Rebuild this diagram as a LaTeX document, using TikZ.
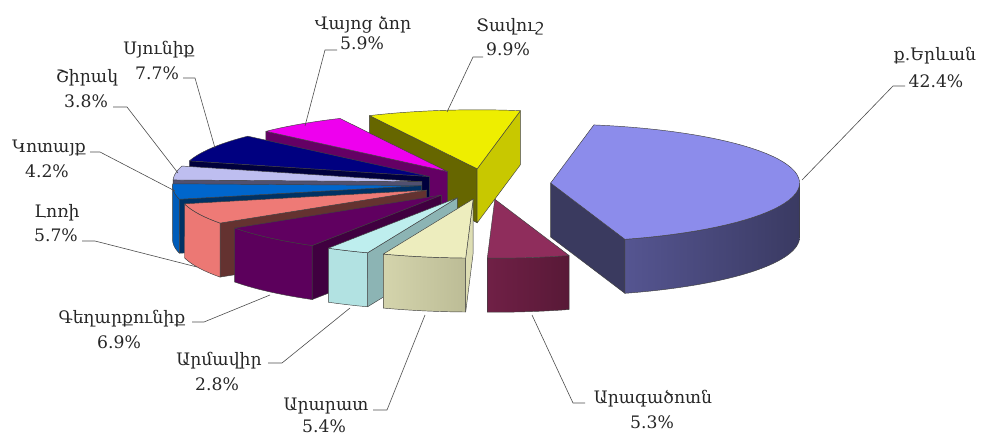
\documentclass[tikz,border=0pt]{standalone}
\usepackage{fontspec}
\setmainfont{DejaVu Serif}
\newcommand\lblfont{\fontsize{17.2}{20}\selectfont}
% pie geometry (pixels)
\def\CX{486}\def\CY{184}\def\RA{249}\def\RB{59}\def\EX{0.26}\def\HH{54}
\newcommand\setapex[2]{%
  \pgfmathsetmacro\tm{(#1+#2)/2}%
  \pgfmathsetmacro\ox{\CX+\EX*\RA*cos(\tm)}%
  \pgfmathsetmacro\oy{\CY-\EX*\RB*sin(\tm)}}
\newcommand\cutface[2]{%
  \pgfmathsetmacro\px{\ox+\RA*cos(#2)}%
  \pgfmathsetmacro\py{\oy-\RB*sin(#2)}%
  \path[edge,#1] (\ox,\oy) -- (\px,\py) -- (\px,\py+\HH) -- (\ox,\oy+\HH) -- cycle;}
\newcommand\outside[3]{%
  \path[edge,#1] plot[domain=#2:#3,samples=40] ({\ox+\RA*cos(\x)},{\oy-\RB*sin(\x)})
    -- plot[domain=#3:#2,samples=40] ({\ox+\RA*cos(\x)},{\oy-\RB*sin(\x)+\HH}) -- cycle;}
\newcommand\topface[3]{%
  \path[edge,#1] (\ox,\oy) -- plot[domain=#2:#3,samples=50] ({\ox+\RA*cos(\x)},{\oy-\RB*sin(\x)}) -- cycle;}
\definecolor{yerT}{RGB}{140,140,235}
\definecolor{yerS1}{RGB}{85,85,145}
\definecolor{yerS2}{RGB}{58,58,98}
\definecolor{yerC}{RGB}{58,58,95}
\definecolor{araT}{RGB}{143,45,92}
\definecolor{araS1}{RGB}{112,32,70}
\definecolor{araS2}{RGB}{88,25,55}
\definecolor{arrT}{RGB}{237,237,190}
\definecolor{arrS1}{RGB}{212,212,172}
\definecolor{arrS2}{RGB}{188,188,150}
\definecolor{arrC}{RGB}{222,222,180}
\definecolor{armT}{RGB}{190,238,238}
\definecolor{armS}{RGB}{178,226,226}
\definecolor{armC}{RGB}{140,180,180}
\definecolor{gegT}{RGB}{96,0,96}
\definecolor{gegS}{RGB}{92,0,92}
\definecolor{gegC}{RGB}{64,0,64}
\definecolor{lorT}{RGB}{238,122,118}
\definecolor{lorS}{RGB}{236,120,116}
\definecolor{lorC}{RGB}{100,50,48}
\definecolor{kotT}{RGB}{0,102,204}
\definecolor{kotS}{RGB}{0,92,185}
\definecolor{kotC}{RGB}{0,50,100}
\definecolor{shiT}{RGB}{190,190,240}
\definecolor{shiC}{RGB}{80,80,112}
\definecolor{syuT}{RGB}{0,0,128}
\definecolor{syuC}{RGB}{0,0,60}
\definecolor{vayT}{RGB}{238,0,238}
\definecolor{vayC}{RGB}{100,0,100}
\definecolor{tavT}{RGB}{238,238,0}
\definecolor{tavC}{RGB}{102,102,0}
\definecolor{tavD}{RGB}{200,200,0}
\tikzset{
  edge/.style={draw=black!75, line width=0.45pt, line join=round},
  lbl/.style={anchor=base, font=\lblfont, text=black!85, inner sep=0pt},
  leader/.style={draw=black!70, line width=0.6pt},
}
\begin{document}
\begin{tikzpicture}[x=1pt,y=-1pt]
\useasboundingbox (0,0) rectangle (982,436);
% ---- slices, back to front ----
% Tavush
\setapex{80}{115.64}
\cutface{fill=tavC}{115.64}
\cutface{fill=tavD}{80}
\topface{fill=tavT}{80}{115.64}
% Vayots Dzor
\setapex{115.64}{136.88}
\cutface{fill=vayC}{136.88}
\topface{fill=vayT}{115.64}{136.88}
% Syunik
\setapex{136.88}{164.6}
\cutface{fill=syuC}{164.6}
\topface{fill=syuT}{136.88}{164.6}
% Shirak
\setapex{164.6}{178.28}
\cutface{fill=shiC}{178.28}
\topface{fill=shiT}{164.6}{178.28}
% Kotayk
\setapex{-181.72}{-166.6}
\cutface{fill=kotC}{-166.6}
\outside{fill=kotS}{-180}{-166.6}
\topface{fill=kotT}{-181.72}{-166.6}
% Lori
\setapex{-166.6}{-146.08}
\cutface{fill=lorC}{-146.08}
\outside{fill=lorS}{-166.6}{-146.08}
\topface{fill=lorT}{-166.6}{-146.08}
% Gegharkunik
\setapex{-146.08}{-121.24}
\cutface{fill=gegC}{-121.24}
\outside{fill=gegS}{-146.08}{-121.24}
\topface{fill=gegT}{-146.08}{-121.24}
% Armavir
\setapex{-121.24}{-111.16}
\cutface{fill=armC}{-111.16}
\outside{fill=armS}{-121.24}{-111.16}
\topface{fill=armT}{-121.24}{-111.16}
% Ararat
\setapex{-111.16}{-91.72}
\cutface{fill=arrC}{-91.72}
\outside{left color=arrS1,right color=arrS2}{-111.16}{-91.72}
\topface{fill=arrT}{-111.16}{-91.72}
% Yerevan
\setapex{-72.64}{80}
\cutface{fill=yerC}{-72.64}
\outside{left color=yerS1,right color=yerS2}{-72.64}{0}
\topface{fill=yerT}{-72.64}{80}
% Aragatsotn
\setapex{-91.72}{-72.64}
\outside{left color=araS1,right color=araS2}{-91.72}{-72.64}
\topface{fill=araT}{-91.72}{-72.64}
% ---- labels ----
\node[lbl] (vdN) at (363,30) {Վայոց ձոր};
\node[lbl] (vdP) at (362,50) {5.9\%};
\node[lbl] (tvN) at (510,32) {Տավուշ};
\node[lbl] (tvP) at (508,56) {9.9\%};
\node[lbl] (yeN) at (935,60) {ք.Երևան};
\node[lbl] (yeP) at (936,87) {42.4\%};
\node[lbl] (syN) at (159,55) {Սյունիք};
\node[lbl] (syP) at (157,79) {7.7\%};
\node[lbl] (shN) at (87,82) {Շիրակ};
\node[lbl] (shP) at (86,107) {3.8\%};
\node[lbl] (koN) at (49,152) {Կոտայք};
\node[lbl] (koP) at (47,177) {4.2\%};
\node[lbl] (loN) at (57,217) {Լոռի};
\node[lbl] (loP) at (56,241) {5.7\%};
\node[lbl] (geN) at (122,323) {Գեղարքունիք};
\node[lbl] (geP) at (119,348) {6.9\%};
\node[lbl] (amN) at (219,365) {Արմավիր};
\node[lbl] (amP) at (217,390) {2.8\%};
\node[lbl] (arN) at (326,410) {Արարատ};
\node[lbl] (arP) at (324,432) {5.4\%};
\node[lbl] (agN) at (653,403) {Արագածոտն};
\node[lbl] (agP) at (652,428) {5.3\%};
% ---- leader lines ----
\coordinate (vdA) at (337,50); \coordinate (vdB) at (325,50); \coordinate (vdE) at (305,126);
\coordinate (tvA) at (483,57); \coordinate (tvB) at (473,57); \coordinate (tvE) at (447,112);
\coordinate (yeA) at (905,86); \coordinate (yeB) at (893,86); \coordinate (yeE) at (802,180);
\coordinate (syA) at (183,78); \coordinate (syB) at (195,78); \coordinate (syE) at (215,148);
\coordinate (shA) at (113,107); \coordinate (shB) at (127,107); \coordinate (shE) at (178,173);
\coordinate (koA) at (90,152); \coordinate (koB) at (100,152); \coordinate (koE) at (175,191);
\coordinate (loA) at (82,241); \coordinate (loB) at (95,241); \coordinate (loE) at (197,267);
\coordinate (geA) at (192,322); \coordinate (geB) at (204,322); \coordinate (geE) at (270,295);
\coordinate (amA) at (268,363); \coordinate (amB) at (282,363); \coordinate (amE) at (350,308);
\coordinate (arA) at (373,410); \coordinate (arB) at (387,410); \coordinate (arE) at (425,315);
\coordinate (agA) at (585,403); \coordinate (agB) at (573,403); \coordinate (agE) at (532,315);
\foreach \n in {vd,tv,ye,sy,sh,ko,lo,ge,am,ar,ag}
  \draw[leader] (\n A) -- (\n B) -- (\n E);
\end{tikzpicture}
\end{document}
